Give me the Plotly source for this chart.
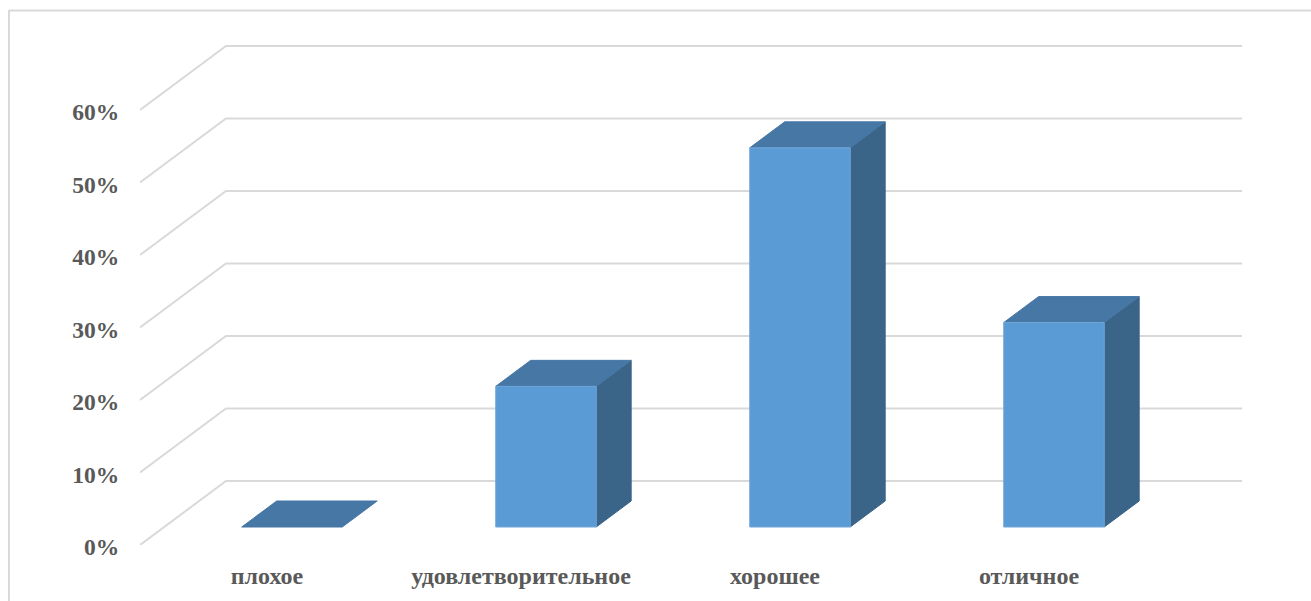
import plotly.graph_objects as go

categories = ["плохое", "удовлетворительное", "хорошее", "отличное"]
values = [0, 19.4, 52.3, 28.2]
y_ticks = [0, 10, 20, 30, 40, 50, 60]
y_tick_labels = ["0%", "10%", "20%", "30%", "40%", "50%", "60%"]

W, H = 1311, 601
L, R, T, B = 140, 1242, 40, 545      # plot area in pixels
PX_PER_CAT = 254.0
PX_PER_PCT = 7.25
DEPTH_X = 86 / PX_PER_CAT            # full floor depth in data units
DEPTH_Y = 64 / PX_PER_PCT
BAR_W = 100.5 / PX_PER_CAT
BAR_SHIFT = 0.8 / PX_PER_CAT
D0, D1 = 18 / 64, 44 / 64            # bar front/back as fraction of floor depth

GRID = "#d9d9d9"
FRONT, TOP, SIDE = "#5b9bd5", "#4677a5", "#3a6488"
TEXT = "#595959"
FONT = "Liberation Serif"

fig = go.Figure()


def proj(x, v, d):
    return x + d * DEPTH_X, v + d * DEPTH_Y


def poly(points, color, edge=None):
    xs = [p[0] for p in points] + [points[0][0]]
    ys = [p[1] for p in points] + [points[0][1]]
    fig.add_trace(go.Scatter(x=xs, y=ys, mode="lines", fill="toself", fillcolor=color,
                             line=dict(color=edge or color, width=1),
                             hoverinfo="skip", showlegend=False))


n = len(categories)
# gridlines: floor diagonal then along the back wall
for t in y_ticks:
    p0 = proj(0, t, 0)
    p1 = proj(0, t, 1)
    p2 = proj(n, t, 1)
    fig.add_trace(go.Scatter(x=[p0[0], p1[0], p2[0]], y=[p0[1], p1[1], p2[1]], mode="lines",
                             line=dict(color=GRID, width=2), hoverinfo="skip", showlegend=False))

# bars
for i, v in enumerate(values):
    x0 = i + 0.5 + BAR_SHIFT - BAR_W / 2
    x1 = x0 + BAR_W
    a = proj(x0, 0, D0); b = proj(x1, 0, D0); c = proj(x1, v, D0); d = proj(x0, v, D0)
    e = proj(x1, 0, D1); f = proj(x1, v, D1); g = proj(x0, v, D1)
    if v > 0:
        poly([b, e, f, c], SIDE)
        poly([d, c, f, g], TOP)
        poly([a, b, c, d], FRONT, "#70a5d9")
    else:
        poly([d, c, f, g], TOP)

# chart-area frame (only left and top edges are visible in the crop)
fx = lambda p: (p - L) / (R - L)
fy = lambda p: (B - p) / (B - T)
frame = dict(type="line", xref="paper", yref="paper", line=dict(color=GRID, width=2))
shapes = [
    dict(frame, x0=fx(9), x1=fx(9), y0=fy(10), y1=fy(H + 2)),
    dict(frame, x0=fx(9), x1=fx(W + 2), y0=fy(10.5), y1=fy(10.5)),
]

fig.update_layout(
    width=W, height=H, autosize=False,
    margin=dict(l=L, r=W - R, t=T, b=H - B, pad=0, autoexpand=False),
    paper_bgcolor="white", plot_bgcolor="white",
    showlegend=False, shapes=shapes,
    xaxis=dict(range=[0, (R - L) / PX_PER_CAT], showgrid=False, zeroline=False, showline=False,
               automargin=False,
               tickmode="array", tickvals=[i + 0.5 for i in range(n)], ticktext=categories,
               ticks="outside", ticklen=9, tickcolor="rgba(0,0,0,0)",
               tickfont=dict(family=FONT, size=24, color=TEXT, weight="bold")),
    yaxis=dict(range=[0, (B - T) / PX_PER_PCT], showgrid=False, zeroline=False, showline=False,
               automargin=False, ticklabelshift=2,
               tickmode="array", tickvals=y_ticks, ticktext=y_tick_labels,
               ticks="outside", ticklen=15, tickcolor="rgba(0,0,0,0)",
               tickfont=dict(family=FONT, size=23.5, color=TEXT, weight="bold")),
)

fig.write_html("out.html", post_script="document.body.style.margin='0';",
               config=dict(displayModeBar=False))
